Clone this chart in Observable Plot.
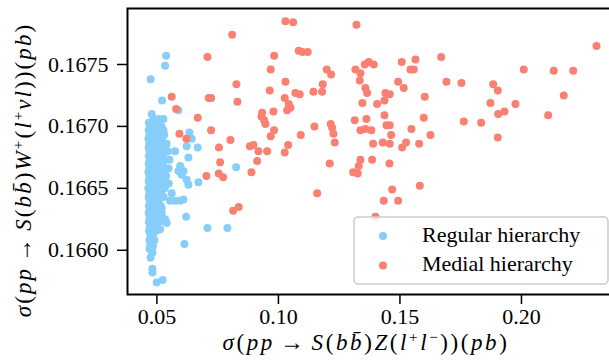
<!DOCTYPE html>
<html><head><meta charset="utf-8">
<script src="https://cdn.jsdelivr.net/npm/d3@7"></script>
<script src="https://cdn.jsdelivr.net/npm/@observablehq/plot@0.6"></script>
<style>
html,body{margin:0;padding:0;background:#fff;overflow:hidden;width:609px;height:364px}
#chart svg{max-width:none !important;display:block}
</style></head><body><div id="chart"></div>
<script>
const seriesNames = ["Regular hierarchy", "Medial hierarchy"];
const seriesColors = ["#87cefa", "#fa8072"];
const xTicks = [0.05, 0.10, 0.15, 0.20];
const yTicks = [0.1660, 0.1665, 0.1670, 0.1675];

const regularPoints = [
[0.05379,0.16757],[0.05337,0.16749],[0.04745,0.16738],[0.05214,0.16721],[0.05885,0.16713],
[0.04786,0.16710],[0.04856,0.16706],[0.05062,0.16706],[0.05267,0.16706],[0.06337,0.16695],
[0.06432,0.16690],[0.05749,0.16680],[0.06226,0.16684],[0.06679,0.16683],[0.06296,0.16675],
[0.08259,0.16667],[0.06226,0.16657],[0.06296,0.16653],[0.06708,0.16655],[0.06021,0.16661],
[0.05885,0.16664],[0.05609,0.16646],[0.05543,0.16640],[0.05749,0.16640],[0.05955,0.16640],
[0.06091,0.16641],[0.06202,0.16627],[0.05337,0.16625],[0.05403,0.16622],[0.07078,0.16618],
[0.07901,0.16618],[0.06132,0.16605],[0.04786,0.16610],[0.04786,0.16600],[0.04815,0.16598],
[0.04815,0.16585],[0.04815,0.16582],[0.04992,0.16574],[0.05239,0.16576],[0.05132,0.16617],
[0.04992,0.16616],[0.05198,0.16634],[0.05403,0.16654],[0.05955,0.16668],[0.06091,0.16664],
[0.05486,0.16654],
[0.0467,0.16703],[0.0478,0.16703],[0.0489,0.16703],[0.0501,0.16703],
[0.0472,0.16700],[0.0484,0.16700],[0.0495,0.16700],[0.0508,0.16700],[0.0519,0.16700],
[0.0466,0.16697],[0.0477,0.16697],[0.0490,0.16697],[0.0502,0.16697],[0.0514,0.16697],[0.0527,0.16697],
[0.0470,0.16693],[0.0481,0.16693],[0.0493,0.16693],[0.0505,0.16693],[0.0517,0.16693],[0.0530,0.16693],
[0.0465,0.16690],[0.0475,0.16690],[0.0487,0.16690],[0.0498,0.16690],[0.0510,0.16690],[0.0522,0.16690],
[0.0469,0.16686],[0.0480,0.16686],[0.0492,0.16686],[0.0504,0.16686],[0.0516,0.16686],[0.0528,0.16686],[0.0540,0.16686],
[0.0466,0.16683],[0.0476,0.16683],[0.0488,0.16683],[0.0499,0.16683],[0.0511,0.16683],[0.0523,0.16683],
[0.0470,0.16680],[0.0482,0.16680],[0.0494,0.16680],[0.0506,0.16680],[0.0518,0.16680],[0.0531,0.16680],[0.0545,0.16680],
[0.0467,0.16676],[0.0478,0.16676],[0.0490,0.16676],[0.0501,0.16676],[0.0513,0.16676],[0.0526,0.16676],
[0.0471,0.16673],[0.0483,0.16673],[0.0495,0.16673],[0.0507,0.16673],[0.0520,0.16673],[0.0534,0.16673],[0.0552,0.16673],
[0.0466,0.16670],[0.0477,0.16670],[0.0489,0.16670],[0.0500,0.16670],[0.0512,0.16670],[0.0525,0.16670],
[0.0469,0.16666],[0.0481,0.16666],[0.0493,0.16666],[0.0505,0.16666],[0.0518,0.16666],[0.0530,0.16666],[0.0548,0.16666],
[0.0465,0.16663],[0.0476,0.16663],[0.0487,0.16663],[0.0499,0.16663],[0.0511,0.16663],[0.0523,0.16663],
[0.0470,0.16660],[0.0482,0.16660],[0.0494,0.16660],[0.0506,0.16660],[0.0519,0.16660],[0.0538,0.16660],
[0.0466,0.16656],[0.0478,0.16656],[0.0490,0.16656],[0.0502,0.16656],[0.0514,0.16656],[0.0527,0.16656],
[0.0471,0.16653],[0.0483,0.16653],[0.0495,0.16653],[0.0508,0.16653],[0.0521,0.16653],
[0.0465,0.16650],[0.0476,0.16650],[0.0488,0.16650],[0.0500,0.16650],[0.0512,0.16650],[0.0532,0.16650],
[0.0469,0.16646],[0.0480,0.16646],[0.0492,0.16646],[0.0504,0.16646],[0.0517,0.16646],
[0.0466,0.16643],[0.0477,0.16643],[0.0489,0.16643],[0.0501,0.16643],[0.0513,0.16643],[0.0528,0.16643],
[0.0470,0.16640],[0.0482,0.16640],[0.0494,0.16640],[0.0506,0.16640],
[0.0467,0.16636],[0.0478,0.16636],[0.0490,0.16636],[0.0502,0.16636],[0.0515,0.16636],
[0.0471,0.16633],[0.0483,0.16633],[0.0495,0.16633],[0.0508,0.16633],
[0.0466,0.16630],[0.0477,0.16630],[0.0489,0.16630],[0.0501,0.16630],[0.0520,0.16630],
[0.0470,0.16626],[0.0481,0.16626],[0.0493,0.16626],[0.0505,0.16626],
[0.0467,0.16623],[0.0478,0.16623],[0.0490,0.16623],[0.0511,0.16623],
[0.0471,0.16620],[0.0483,0.16620],[0.0495,0.16620],
[0.0468,0.16616],[0.0479,0.16616],[0.0491,0.16616],
[0.0472,0.16613],[0.0484,0.16613],
[0.0469,0.16608],[0.0480,0.16608],[0.0490,0.16608],
[0.0473,0.16604],[0.0484,0.16604],
[0.0470,0.16601],[0.0481,0.16601],
[0.0474,0.16594]
];

const medialPoints = [
[0.10288,0.16785],[0.10605,0.16784],[0.13210,0.16782],[0.08095,0.16774],[0.07078,0.16756],
[0.09823,0.16757],[0.10835,0.16761],[0.10988,0.16760],[0.11206,0.16760],[0.09683,0.16746],
[0.08272,0.16734],[0.10288,0.16736],[0.09642,0.16729],[0.10700,0.16727],[0.10876,0.16726],
[0.11440,0.16728],[0.11823,0.16734],[0.11798,0.16728],[0.11988,0.16746],[0.12169,0.16742],
[0.13169,0.16746],[0.13374,0.16743],[0.13346,0.16737],[0.13551,0.16750],[0.13716,0.16752],
[0.13922,0.16750],[0.13580,0.16731],[0.13650,0.16727],[0.13457,0.16719],[0.05609,0.16724],
[0.07132,0.16723],[0.07230,0.16723],[0.08313,0.16720],[0.05790,0.16714],[0.06679,0.16707],
[0.10259,0.16723],[0.10424,0.16718],[0.10494,0.16715],[0.10358,0.16713],[0.09329,0.16711],
[0.09300,0.16708],[0.09411,0.16705],[0.09465,0.16702],[0.09794,0.16712],[0.09819,0.16697],
[0.09683,0.16692],[0.07230,0.16697],[0.05926,0.16694],[0.06214,0.16690],[0.08025,0.16689],
[0.07551,0.16683],[0.08827,0.16684],[0.08971,0.16685],[0.09177,0.16680],[0.09535,0.16680],
[0.10399,0.16685],[0.10259,0.16679],[0.10918,0.16693],[0.11481,0.16700],[0.12152,0.16702],
[0.12210,0.16699],[0.12263,0.16694],[0.12317,0.16687],[0.13140,0.16705],[0.13621,0.16706],
[0.13374,0.16697],[0.13580,0.16698],[0.13827,0.16697],[0.13897,0.16686],[0.23086,0.16765],
[0.16695,0.16756],[0.15074,0.16752],[0.15638,0.16754],[0.15432,0.16746],[0.15568,0.16746],
[0.20095,0.16746],[0.21329,0.16745],[0.22128,0.16745],[0.16914,0.16736],[0.17531,0.16735],
[0.18835,0.16734],[0.19025,0.16729],[0.14926,0.16736],[0.15156,0.16731],[0.14403,0.16727],
[0.14580,0.16726],[0.14362,0.16721],[0.14062,0.16718],[0.16021,0.16724],[0.21741,0.16725],
[0.18724,0.16719],[0.19753,0.16718],[0.19300,0.16712],[0.19041,0.16710],[0.21099,0.16709],
[0.14362,0.16709],[0.14444,0.16701],[0.14580,0.16701],[0.15979,0.16707],[0.17626,0.16704],
[0.18342,0.16703],[0.15473,0.16698],[0.14638,0.16693],[0.16255,0.16693],[0.19025,0.16691],
[0.14292,0.16687],[0.14580,0.16686],[0.15255,0.16687],[0.15091,0.16683],[0.15790,0.16686],
[0.13374,0.16673],[0.13304,0.16668],[0.13074,0.16663],[0.13263,0.16662],[0.13856,0.16673],
[0.14568,0.16670],[0.15815,0.16652],[0.14679,0.16649],[0.14333,0.16640],[0.14926,0.16640],
[0.13992,0.16627],[0.07601,0.16671],[0.09123,0.16672],[0.08889,0.16663],[0.07037,0.16660],
[0.07543,0.16662],[0.07724,0.16659],[0.12111,0.16670],[0.11593,0.16646],[0.08136,0.16632],
[0.08366,0.16635]
];

const data = [
  ...regularPoints.map(([x, y]) => ({x, y, s: seriesNames[0]})),
  ...medialPoints.map(([x, y]) => ({x, y, s: seriesNames[1]}))
];

const FONT = "Liberation Serif";

const plot = Plot.plot({
  width: 621, height: 364,
  marginLeft: 127, marginRight: 5, marginTop: 8, marginBottom: 70,
  style: {fontFamily: FONT, fontSize: "22px", background: "white", color: "black"},
  x: {domain: [0.0379, 0.2391], label: null},
  y: {domain: [0.165643, 0.167952], label: null},
  color: {domain: seriesNames, range: seriesColors},
  marks: [
    Plot.dot(data, {x: "x", y: "y", fill: "s", r: 4}),
    Plot.axisX({ticks: xTicks, tickFormat: d => d.toFixed(2), tickSize: 10, tickPadding: 4, strokeWidth: 1.5, label: null, fontSize: 22, fontFamily: FONT}),
    Plot.axisY({ticks: yTicks, tickFormat: d => d.toFixed(4), tickSize: 10, tickPadding: 9, strokeWidth: 1.5, label: null, fontSize: 22, fontFamily: FONT}),
    Plot.frame({stroke: "black", strokeWidth: 2})
  ]
});
plot.style.maxWidth = "none";
document.getElementById("chart").appendChild(plot);

const svg = d3.select(plot);

function mathText(sel, parts) {
  let raised = false, afterArrow = false;
  for (const [t, s] of parts) {
    const ts = sel.append("tspan").text(t);
    if (afterArrow) { ts.attr("dx", 5); afterArrow = false; }
    if (s === "sup") {
      ts.attr("font-size", 15).attr("dy", raised ? 0 : -8);
      raised = true;
    } else {
      if (raised) ts.attr("dy", 8);
      raised = false;
      if (s === "i") ts.attr("font-style", "italic");
      if (s === "arrow") { ts.attr("font-size", 24).attr("dx", 5); afterArrow = true; }
    }
  }
}

const xParts = [["σ","i"],["(","r"],["pp","i"],["→","arrow"],["S","i"],["(","r"],["bb\u0304","i"],[")","r"],["Z","i"],["(","r"],["l","i"],["+","sup"],["l","i"],["−","sup"],["))(","r"],["pb","i"],[")","r"]];
const yParts = [["σ","i"],["(","r"],["pp","i"],["→","arrow"],["S","i"],["(","r"],["bb\u0304","i"],[")","r"],["W","i"],["+","sup"],["(","r"],["l","i"],["+","sup"],["νl","i"],["))(","r"],["pb","i"],[")","r"]];

const xl = svg.append("text")
  .attr("x", 366).attr("y", 350)
  .attr("text-anchor", "middle").attr("letter-spacing", 2.6)
  .attr("font-family", FONT).attr("font-size", 23).attr("fill", "black");
mathText(xl, xParts);

const yl = svg.append("text")
  .attr("transform", "translate(31,170) rotate(-90)")
  .attr("text-anchor", "middle").attr("letter-spacing", 2.1)
  .attr("font-family", FONT).attr("font-size", 23).attr("fill", "black");
mathText(yl, yParts);

const lg = svg.append("g");
lg.append("rect").attr("x", 354).attr("y", 217).attr("width", 254).attr("height", 67)
  .attr("rx", 4).attr("fill", "white").attr("fill-opacity", 0.8)
  .attr("stroke", "#cccccc").attr("stroke-width", 1.5);
seriesNames.forEach((name, i) => {
  const cy = 236 + i * 29.5;
  lg.append("circle").attr("cx", 383).attr("cy", cy).attr("r", 4).attr("fill", seriesColors[i]);
  lg.append("text").attr("x", 422).attr("y", cy + 5.5).attr("text-anchor", "start")
    .attr("font-family", FONT).attr("font-size", 22).attr("fill", "black").text(name);
});
</script></body></html>
